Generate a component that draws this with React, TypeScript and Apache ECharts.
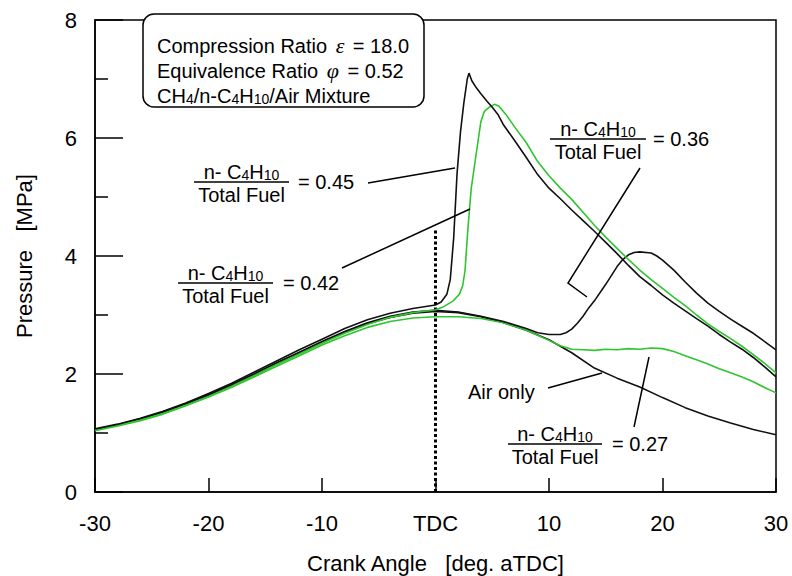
import React, { useEffect, useRef } from "react";
import * as echarts from "echarts";

const FONT = "'Liberation Sans', Arial, Helvetica, sans-serif";
const SERIF = "'Liberation Serif', 'Times New Roman', serif";
const BLACK = "#111111";
const GREEN = "#2fc52f";

const X_TICKS = [-30, -20, -10, 0, 10, 20, 30];
const Y_TICKS = [0, 2, 4, 6, 8];

// Pressure [MPa] vs crank angle [deg aTDC]
const AIR_ONLY: [number, number][] = [
  [-30, 1.05], [-28, 1.13], [-26, 1.23], [-24, 1.35], [-22, 1.49], [-20, 1.64], [-18, 1.81],
  [-16, 1.99], [-14, 2.18], [-12, 2.36], [-10, 2.54], [-8, 2.71], [-6, 2.85], [-4, 2.96],
  [-2, 3.03], [0, 3.06], [2, 3.04], [4, 2.97], [6, 2.87], [8, 2.74], [10, 2.58], [12, 2.36],
  [14, 2.1], [16, 1.93], [18, 1.78], [20, 1.6], [22, 1.43], [24, 1.29], [26, 1.17],
  [28, 1.06], [30, 0.97],
];

const FRAC_027: [number, number][] = [
  [-30, 1.04], [-28, 1.12], [-26, 1.21], [-24, 1.32], [-22, 1.46], [-20, 1.61], [-18, 1.77],
  [-16, 1.95], [-14, 2.13], [-12, 2.31], [-10, 2.49], [-8, 2.65], [-6, 2.79], [-4, 2.89],
  [-2, 2.95], [0, 2.97], [2, 2.97], [4, 2.94], [6, 2.87], [8, 2.74], [10, 2.57], [11, 2.48],
  [12, 2.42], [13, 2.41], [14, 2.4], [15, 2.42], [16, 2.41], [17, 2.43], [18, 2.42],
  [19, 2.44], [20, 2.43], [21, 2.38], [22, 2.31], [23, 2.24], [24, 2.17], [25, 2.09],
  [26, 2.02], [27, 1.95], [28, 1.87], [29, 1.77], [30, 1.68],
];

const FRAC_036: [number, number][] = [
  [-30, 1.06], [-28, 1.14], [-26, 1.24], [-24, 1.36], [-22, 1.5], [-20, 1.65], [-18, 1.82],
  [-16, 2.0], [-14, 2.19], [-12, 2.37], [-10, 2.55], [-8, 2.72], [-6, 2.87], [-4, 2.98],
  [-2, 3.05], [0, 3.08], [2, 3.05], [4, 2.98], [6, 2.89], [8, 2.77], [9, 2.7], [10, 2.67],
  [11, 2.67], [11.5, 2.7], [12, 2.76], [12.5, 2.86], [13, 2.98], [13.5, 3.12], [14, 3.24],
  [15, 3.52], [16, 3.82], [16.5, 3.94], [17, 4.02], [17.5, 4.06], [18, 4.07], [19, 4.05],
  [19.5, 4.0], [20, 3.93], [21, 3.76], [22, 3.56], [23, 3.37], [24, 3.2], [25, 3.06],
  [26, 2.93], [27, 2.81], [28, 2.69], [29, 2.55], [30, 2.41],
];

const FRAC_042: [number, number][] = [
  [-30, 1.05], [-28, 1.13], [-26, 1.22], [-24, 1.33], [-22, 1.47], [-20, 1.62], [-18, 1.79],
  [-16, 1.97], [-14, 2.16], [-12, 2.34], [-10, 2.52], [-8, 2.69], [-6, 2.84], [-4, 2.96],
  [-2, 3.04], [0, 3.09], [0.6, 3.13], [1.5, 3.23], [2.1, 3.35], [2.4, 3.5], [2.6, 3.75],
  [2.85, 4.45], [3.15, 5.15], [3.6, 5.75], [4.0, 6.28], [4.3, 6.45], [4.8, 6.53], [5.2, 6.57],
  [5.6, 6.54], [6.2, 6.4], [7, 6.18], [8, 5.92], [9, 5.6], [10, 5.36], [11, 5.15], [12, 4.96],
  [13, 4.74], [14, 4.52], [15, 4.32], [16, 4.13], [17, 3.94], [18, 3.76], [19, 3.6],
  [20, 3.45], [21, 3.3], [22, 3.16], [23, 3.0], [24, 2.85], [25, 2.72], [26, 2.6], [27, 2.47],
  [28, 2.33], [29, 2.18], [30, 2.02],
];

const FRAC_045: [number, number][] = [
  [-30, 1.07], [-28, 1.15], [-26, 1.25], [-24, 1.37], [-22, 1.51], [-20, 1.67], [-18, 1.84],
  [-16, 2.03], [-14, 2.22], [-12, 2.41], [-10, 2.59], [-8, 2.77], [-6, 2.92], [-4, 3.03],
  [-2, 3.11], [-1, 3.14], [0, 3.17], [0.5, 3.22], [1, 3.35], [1.3, 3.6], [1.6, 4.3], [1.9, 5.4],
  [2.2, 6.1], [2.5, 6.6], [2.8, 7.0], [2.95, 7.1], [3.2, 6.97], [3.6, 6.85], [4, 6.75],
  [4.5, 6.63], [5, 6.52], [5.5, 6.4], [6, 6.22], [7, 5.95], [8, 5.67], [9, 5.38], [10, 5.15],
  [11, 4.97], [12, 4.78], [13, 4.6], [14, 4.42], [15, 4.23], [16, 4.04], [17, 3.84],
  [18, 3.65], [19, 3.5], [20, 3.34], [21, 3.2], [22, 3.07], [23, 2.94], [24, 2.81],
  [25, 2.67], [26, 2.54], [27, 2.42], [28, 2.28], [29, 2.12], [30, 1.95],
];

const TDC_MARKER: [number, number][] = [[0, 0], [0, 4.45]];

const X_TITLE = "Crank Angle   [deg. aTDC]";
const Y_TITLE = "Pressure   [MPa]";

const BOX_LINES = [
  "{a|Compression Ratio }{g|ε}{a| = 18.0}",
  "{a|Equivalence Ratio }{g|φ}{a| = 0.52}",
  "{a|CH}{s|4}{a|/n-C}{s|4}{a|H}{s|10}{a|/Air Mixture}",
];

const NUMERATOR = "{a|n- C}{s|4}{a|H}{s|10}";
const DENOMINATOR = "Total Fuel";

const RICH = {
  a: { fontSize: 20, fontFamily: FONT, color: "#000", verticalAlign: "bottom", lineHeight: 22 },
  s: { fontSize: 14, fontFamily: FONT, color: "#000", verticalAlign: "bottom", lineHeight: 18 },
  g: {
    fontSize: 22, fontFamily: SERIF, fontStyle: "italic", color: "#000",
    verticalAlign: "bottom", lineHeight: 22, padding: [0, 3, 0, 3],
  },
};

function fraction(cx: number, barY: number, halfW: number, value: string, valueX: number) {
  return [
    {
      type: "text",
      z: 20,
      style: { text: NUMERATOR, rich: RICH, x: cx, y: barY - 11, align: "center", verticalAlign: "middle" },
    },
    {
      type: "line",
      z: 20,
      shape: { x1: cx - halfW, y1: barY, x2: cx + halfW, y2: barY },
      style: { stroke: "#000", lineWidth: 1.5 },
    },
    {
      type: "text",
      z: 20,
      style: {
        text: DENOMINATOR, x: cx, y: barY + 13, align: "center", verticalAlign: "middle",
        fontSize: 20, fontFamily: FONT, fill: "#000",
      },
    },
    {
      type: "text",
      z: 20,
      style: {
        text: "= " + value, x: valueX, y: barY, align: "left", verticalAlign: "middle",
        fontSize: 20, fontFamily: FONT, fill: "#000",
      },
    },
  ];
}

function leader(points: number[][]) {
  return {
    type: "polyline",
    z: 20,
    shape: { points },
    style: { stroke: "#000", lineWidth: 1.5, fill: null },
  };
}

export default function App() {
  const ref = useRef<HTMLDivElement>(null);

  useEffect(() => {
    if (!ref.current) return;
    const chart = echarts.init(ref.current, null, { renderer: "svg" });

    const lineSeries = (name: string, data: [number, number][], color: string) => ({
      name,
      type: "line",
      data,
      showSymbol: false,
      symbol: "none",
      lineStyle: { color, width: 1.6 },
      itemStyle: { color },
      z: 3,
    });

    const graphic: any[] = [
      {
        type: "rect",
        z: 15,
        shape: { x: 143, y: 14, width: 281, height: 93, r: 11 },
        style: { fill: "#fff", stroke: "#000", lineWidth: 1.5 },
      },
      ...BOX_LINES.map((t, i) => ({
        type: "text",
        z: 16,
        style: { text: t, rich: RICH, x: 157, y: [45, 70, 95][i], align: "left", verticalAlign: "middle" },
      })),
      ...fraction(241.5, 182, 47.5, "0.45", 298),
      leader([[368, 183], [455, 168]]),
      ...fraction(225.5, 283, 47.5, "0.42", 283),
      leader([[342, 268], [470, 209]]),
      ...fraction(598, 139, 48, "0.36", 653),
      leader([[640, 168], [568, 283], [587, 297]]),
      ...fraction(555, 444, 47, "0.27", 612),
      leader([[634, 427], [649, 357]]),
      {
        type: "text",
        z: 20,
        style: {
          text: "Air only", x: 468, y: 392, align: "left", verticalAlign: "middle",
          fontSize: 20, fontFamily: FONT, fill: "#000",
        },
      },
      leader([[548, 388], [602, 373]]),
    ];

    chart.setOption({
      animation: false,
      backgroundColor: "#fff",
      textStyle: { fontFamily: FONT },
      grid: {
        left: 95, right: 16, top: 20, bottom: 84,
        show: true, borderColor: "#000", borderWidth: 1.5, backgroundColor: "transparent",
        outerBoundsMode: "none",
      },
      xAxis: {
        type: "value",
        min: X_TICKS[0],
        max: X_TICKS[X_TICKS.length - 1],
        interval: 10,
        name: X_TITLE,
        nameLocation: "middle",
        nameGap: 60,
        nameTextStyle: { fontSize: 22, color: "#000", fontFamily: FONT },
        axisLine: { show: true, onZero: false, lineStyle: { color: "#000", width: 1.5 } },
        axisTick: { show: true, inside: true, length: 14, lineStyle: { color: "#000", width: 1.5 } },
        axisLabel: {
          fontSize: 22, color: "#000", margin: 20, fontFamily: FONT,
          formatter: (v: number) => (v === 0 ? "TDC" : String(v)),
        },
        splitLine: { show: false },
      },
      yAxis: {
        type: "value",
        min: Y_TICKS[0],
        max: Y_TICKS[Y_TICKS.length - 1],
        interval: 2,
        name: Y_TITLE,
        nameLocation: "middle",
        nameGap: 60,
        nameTextStyle: { fontSize: 22, color: "#000", fontFamily: FONT },
        axisLine: { show: true, onZero: false, lineStyle: { color: "#000", width: 1.5 } },
        axisTick: { show: true, inside: true, length: 28, lineStyle: { color: "#000", width: 1.5 } },
        minorTick: { show: true, splitNumber: 2, length: 13, lineStyle: { color: "#000", width: 1.5 } },
        axisLabel: { fontSize: 22, color: "#000", margin: 18, fontFamily: FONT },
        splitLine: { show: false },
      },
      series: [
        {
          name: "TDC",
          type: "line",
          data: TDC_MARKER,
          showSymbol: false,
          symbol: "none",
          lineStyle: { color: "#000", width: 3, type: [3, 2.5] },
          z: 2,
        },
        lineSeries("Air only", AIR_ONLY, BLACK),
        lineSeries("0.27", FRAC_027, GREEN),
        lineSeries("0.36", FRAC_036, BLACK),
        lineSeries("0.42", FRAC_042, GREEN),
        lineSeries("0.45", FRAC_045, BLACK),
      ],
      graphic,
    });

    return () => chart.dispose();
  }, []);

  return (
    <div
      ref={ref}
      style={{ position: "fixed", left: 0, top: 0, width: 792, height: 576, background: "#fff" }}
    />
  );
}
